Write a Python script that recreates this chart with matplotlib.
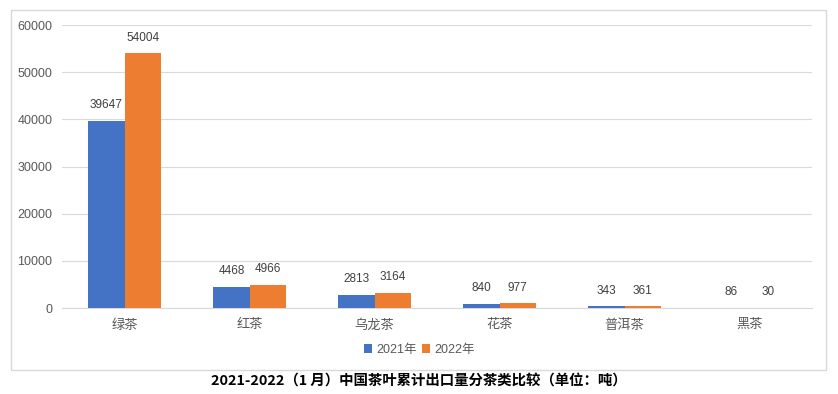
import matplotlib.pyplot as plt
import numpy as np
from matplotlib.patches import Rectangle

plt.rcParams['font.family'] = ['Liberation Sans', 'Noto Sans CJK SC', 'DejaVu Sans']

# 数据
categories = ['绿茶', '红茶', '乌龙茶', '花茶', '普洱茶', '黑茶']
series_names = ['2021年', '2022年']
values_2021 = [39647, 4468, 2813, 840, 343, 86]
values_2022 = [54004, 4966, 3164, 977, 361, 30]
yticks = [0, 10000, 20000, 30000, 40000, 50000, 60000]
title = '2021-2022（1 月）中国茶叶累计出口量分茶类比较（单位：吨）'

blue = '#4472c4'
orange = '#ed7d31'
grey = '#595959'

fig = plt.figure(figsize=(8.38, 3.94), dpi=100)
ax = fig.add_axes([0.074, 0.218, 0.895, 0.7185])

x = np.arange(len(categories))
w = 0.29
b1 = ax.bar(x - w / 2, values_2021, w, color=blue, label=series_names[0], zorder=3)
b2 = ax.bar(x + w / 2, values_2022, w, color=orange, label=series_names[1], zorder=3)

for bars in (b1, b2):
    for r in bars:
        ax.annotate(f'{int(r.get_height())}', (r.get_x() + r.get_width() / 2, r.get_height()),
                    xytext=(0, 7), textcoords='offset points', ha='center', va='bottom',
                    fontsize=8.5, color='#404040')

ax.set_xlim(-0.5, len(categories) - 0.5)
ax.set_ylim(0, 60000)
ax.set_yticks(yticks)
ax.set_yticklabels([str(t) for t in yticks])
ax.set_xticks(x)
ax.set_xticklabels(categories, fontsize=9.5)
ax.tick_params(axis='both', length=0, colors=grey)
ax.tick_params(axis='y', pad=7, labelsize=9)
ax.tick_params(axis='x', pad=8)
ax.grid(axis='y', color='#d9d9d9', linewidth=0.8, zorder=0)
for s in ['top', 'right', 'left']:
    ax.spines[s].set_visible(False)
ax.spines['bottom'].set_color('#d9d9d9')

leg = fig.legend(loc='center', bbox_to_anchor=(0.5, 1 - 350 / 394), ncol=2, frameon=False,
                 fontsize=9, handlelength=0.7, handleheight=0.7, handletextpad=0.3,
                 columnspacing=0.4, labelcolor=grey)

# 外框
fig.patches.append(Rectangle((11 / 838, 1 - 370 / 394), 815 / 838, 360 / 394,
                             transform=fig.transFigure, fill=False, edgecolor='#d9d9d9',
                             linewidth=1))

fig.text(0.5, 1 - 382 / 394, title, ha='center', va='center', fontsize=10.4,
         fontweight='bold', color='black', family=['Noto Sans CJK SC', 'DejaVu Sans'])

fig.savefig('out.png', dpi=100)
